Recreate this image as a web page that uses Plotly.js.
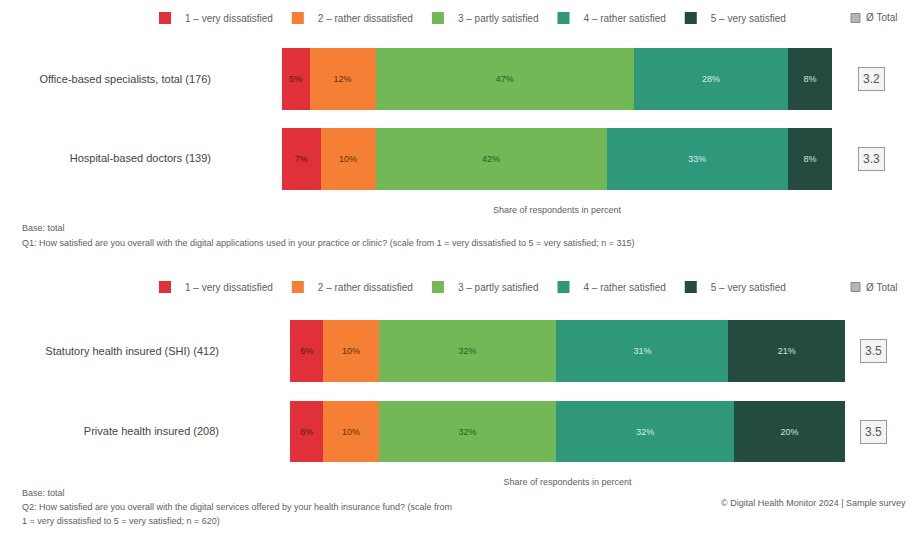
<!DOCTYPE html>
<html>
<head>
<meta charset="utf-8">
<script src="https://cdn.plot.ly/plotly-3.0.1.min.js"></script>
<style>
  html, body { margin: 0; padding: 0; background: #ffffff; }
  #chart { width: 911px; height: 535px; }
</style>
</head>
<body>
<div id="chart"></div>
<script>
// Satisfaction scale (answer categories) and colours
const scaleLabels = ['1 – very dissatisfied', '2 – rather dissatisfied', '3 – partly satisfied', '4 – rather satisfied', '5 – very satisfied'];
const scaleColors = ['#e0303a', '#f47f35', '#72b856', '#2f977a', '#234b3f'];
const labelColors = ['#5a1a12', '#6b3005', '#2d5a22', '#d5efe6', '#d0e2dc'];

// Panel 1: doctors
const groupsTop = ['Office-based specialists, total (176)', 'Hospital-based doctors (139)'];
const shareTop1 = [5, 12, 47, 28, 8];   // office-based
const shareTop2 = [7, 10, 42, 33, 8];   // hospital-based
const meanTop = [3.2, 3.3];

// Panel 2: insured persons
const groupsBottom = ['Statutory health insured (SHI) (412)', 'Private health insured (208)'];
const shareBottom1 = [6, 10, 32, 31, 21];
const shareBottom2 = [6, 10, 32, 32, 20];
const meanBottom = [3.5, 3.5];

const axisTitle = 'Share of respondents in percent';
const meanLabel = 'Ø Total';

const W = 911, H = 535;
const px = x => x / W;
const py = y => 1 - y / H;

const font = 'Liberation Sans, Arial, sans-serif';
const grey = '#606060';

const traces = [];
scaleLabels.forEach((name, i) => {
  traces.push({
    type: 'bar', orientation: 'h', name: name,
    y: groupsTop, x: [shareTop1[i], shareTop2[i]],
    xaxis: 'x', yaxis: 'y', legend: 'legend',
    width: 0.78,
    marker: { color: scaleColors[i], line: { width: 0 } },
    texttemplate: '%{x}%',
    textposition: 'inside', insidetextanchor: 'middle',
    textfont: { family: font, size: 9, color: labelColors[i] },
    hoverinfo: 'x+y+name'
  });
});
scaleLabels.forEach((name, i) => {
  traces.push({
    type: 'bar', orientation: 'h', name: name,
    y: groupsBottom, x: [shareBottom1[i], shareBottom2[i]],
    xaxis: 'x2', yaxis: 'y2', legend: 'legend2',
    width: 0.77,
    marker: { color: scaleColors[i], line: { width: 0 } },
    texttemplate: '%{x}%',
    textposition: 'inside', insidetextanchor: 'middle',
    textfont: { family: font, size: 9, color: labelColors[i] },
    hoverinfo: 'x+y+name'
  });
});

const annotations = [];
// Mean values in boxes to the right of each bar
groupsTop.forEach((g, k) => annotations.push({
  xref: 'paper', yref: 'y', x: px(885), y: g, text: meanTop[k].toFixed(1),
  showarrow: false, font: { family: font, size: 12, color: '#555' },
  bordercolor: '#9a9a9a', borderwidth: 1, borderpad: 4, bgcolor: '#f4f4f4'
}));
groupsBottom.forEach((g, k) => annotations.push({
  xref: 'paper', yref: 'y2', x: px(887), y: g, text: meanBottom[k].toFixed(1),
  showarrow: false, font: { family: font, size: 12, color: '#555' },
  bordercolor: '#9a9a9a', borderwidth: 1, borderpad: 4, bgcolor: '#f4f4f4'
}));
// Legend entry for the mean value boxes
[18, 287].forEach(yy => annotations.push({
  xref: 'paper', yref: 'paper', x: px(864), y: py(yy), xanchor: 'left', yanchor: 'middle',
  text: meanLabel, showarrow: false, font: { family: font, size: 10, color: grey }
}));

// Notes
const notes = [
  [20, 228, 'Base: total'],
  [20, 243, 'Q1: How satisfied are you overall with the digital applications used in your practice or clinic? (scale from 1 = very dissatisfied to 5 = very satisfied; n = 315)'],
  [20, 493, 'Base: total'],
  [20, 507, 'Q2: How satisfied are you overall with the digital services offered by your health insurance fund? (scale from'],
  [20, 521, '1 = very dissatisfied to 5 = very satisfied; n = 620)']
];
notes.forEach(([x, y, t]) => annotations.push({
  xref: 'paper', yref: 'paper', x: px(x), y: py(y), xanchor: 'left', yanchor: 'middle',
  text: t, showarrow: false, font: { family: font, size: 9, color: grey }
}));
annotations.push({
  xref: 'paper', yref: 'paper', x: px(908), y: py(503), xanchor: 'right', yanchor: 'middle',
  text: '© Digital Health Monitor 2024 | Sample survey', showarrow: false,
  font: { family: font, size: 9, color: grey }
});

const shapes = [
  // grey squares for the mean legend entries
  { type: 'rect', xref: 'paper', yref: 'paper', x0: px(851), x1: px(860), y0: py(22.5), y1: py(13.5),
    fillcolor: '#b5b5b5', line: { width: 1, color: '#8a8a8a' } },
  { type: 'rect', xref: 'paper', yref: 'paper', x0: px(851), x1: px(860), y0: py(291.5), y1: py(282.5),
    fillcolor: '#b5b5b5', line: { width: 1, color: '#8a8a8a' } }
];

const xaxisBase = {
  range: [0, 100], showgrid: false, zeroline: false, showline: false,
  showticklabels: false, ticks: '', fixedrange: true
};
const yaxisBase = {
  type: 'category', autorange: 'reversed', showgrid: false, zeroline: false,
  showline: false, ticks: '', ticklabelstandoff: 70,
  tickfont: { family: font, size: 11, color: '#444' }
};

const legendBase = {
  orientation: 'h', xanchor: 'left', yanchor: 'middle',
  font: { family: font, size: 10, color: grey },
  bgcolor: 'rgba(0,0,0,0)', itemclick: false, itemdoubleclick: false,
  itemwidth: 30, traceorder: 'normal'
};

const layout = {
  width: W, height: H,
  margin: { l: 0, r: 0, t: 0, b: 0 },
  paper_bgcolor: '#ffffff', plot_bgcolor: '#ffffff',
  barmode: 'stack',
  showlegend: true,
  xaxis: Object.assign({}, xaxisBase, {
    domain: [px(282), px(832)], anchor: 'y',
    title: { text: axisTitle, font: { family: font, size: 9, color: grey }, standoff: 8 }
  }),
  yaxis: Object.assign({}, yaxisBase, {
    domain: [py(198.25), py(39.25)], anchor: 'x'
  }),
  xaxis2: Object.assign({}, xaxisBase, {
    domain: [px(290), px(845)], anchor: 'y2',
    title: { text: axisTitle, font: { family: font, size: 9, color: grey }, standoff: 6 }
  }),
  yaxis2: Object.assign({}, yaxisBase, {
    domain: [py(471.75), py(310.75)], anchor: 'x2'
  }),
  legend: Object.assign({}, legendBase, { x: px(145), y: py(18) }),
  legend2: Object.assign({}, legendBase, { x: px(145), y: py(287) }),
  annotations: annotations,
  shapes: shapes
};

Plotly.newPlot('chart', traces, layout, { displayModeBar: false, staticPlot: true });
</script>
</body>
</html>
